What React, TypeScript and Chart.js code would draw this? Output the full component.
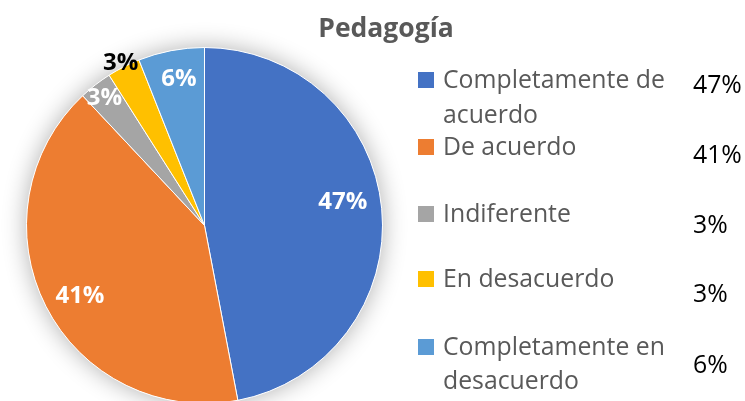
import React, { useEffect, useRef } from "react";
import { Chart, registerables } from "chart.js";

Chart.register(...registerables);

// ---- data ----
const chartTitle = "Pedagogía";
const categories: string[][] = [
  ["Completamente de", "acuerdo"],
  ["De acuerdo"],
  ["Indiferente"],
  ["En desacuerdo"],
  ["Completamente en", "desacuerdo"],
];
const values = [47, 41, 3, 3, 6];
const valueLabels = ["47%", "41%", "3%", "3%", "6%"];

// ---- style / layout ----
const colors = ["#4472C4", "#ED7D31", "#A5A5A5", "#FFC000", "#5B9BD5"];
const labelColors = ["#ffffff", "#ffffff", "#ffffff", "#000000", "#ffffff"];
const labelRadius = [0.79, 0.8, 0.918, 1.036, 0.845];
const labelAngleShift = [-5, -2, 0, 0, 1];
const legendBaselines = [[88, 123], [155], [222], [287], [355, 389]];
const pctBaselines = [93, 163, 233, 302, 373];
const FONT = "'Open Sans', sans-serif";

const overlay = {
  id: "overlay",
  beforeDatasetsDraw(chart: any) {
    const ctx = chart.ctx;
    const arc = chart.getDatasetMeta(0).data[0] as any;
    if (!arc) return;
    ctx.save();
    ctx.beginPath();
    ctx.arc(arc.x, arc.y, arc.outerRadius, 0, Math.PI * 2);
    ctx.fillStyle = "#ffffff";
    ctx.shadowColor = "rgba(0,0,0,0.32)";
    ctx.shadowBlur = 24;
    ctx.fill();
    ctx.restore();
  },
  afterDatasetsDraw(chart: any) {
    const ctx = chart.ctx;
    const meta = chart.getDatasetMeta(0);
    ctx.save();
    ctx.font = `bold 24px ${FONT}`;
    ctx.textAlign = "center";
    ctx.textBaseline = "alphabetic";
    meta.data.forEach((a: any, i: number) => {
      const mid = (a.startAngle + a.endAngle) / 2 + (labelAngleShift[i] * Math.PI) / 180;
      const r = a.outerRadius * labelRadius[i];
      const x = a.x + Math.cos(mid) * r;
      const y = a.y + Math.sin(mid) * r;
      ctx.fillStyle = labelColors[i];
      ctx.fillText(valueLabels[i], x, y + 24 * 0.36);
    });
    ctx.restore();
  },
  afterDraw(chart: any) {
    const ctx = chart.ctx;
    ctx.save();
    // title
    ctx.font = `bold 26.5px ${FONT}`;
    ctx.fillStyle = "#595959";
    ctx.textAlign = "center";
    ctx.textBaseline = "alphabetic";
    ctx.fillText(chartTitle, 386, 37);
    // legend
    ctx.textAlign = "left";
    categories.forEach((lines, i) => {
      const b = legendBaselines[i];
      ctx.fillStyle = colors[i];
      ctx.fillRect(418, b[0] - 16, 16, 16);
      ctx.font = `24.8px ${FONT}`;
      ctx.fillStyle = "#595959";
      lines.forEach((t, j) => ctx.fillText(t, 443, b[j]));
      ctx.fillStyle = "#000000";
      ctx.fillText(valueLabels[i], 693, pctBaselines[i]);
    });
    ctx.restore();
  },
};

export default function App() {
  const ref = useRef<HTMLCanvasElement | null>(null);
  useEffect(() => {
    if (!ref.current) return;
    const chart = new Chart(ref.current, {
      type: "pie",
      data: {
        labels: categories.map((c) => c.join(" ")),
        datasets: [
          {
            data: values,
            backgroundColor: colors,
            borderColor: "#ffffff",
            borderWidth: 1,
          },
        ],
      },
      options: {
        responsive: false,
        animation: false,
        events: [],
        layout: { padding: { left: 26, top: 47, right: 362, bottom: 16 } },
        plugins: {
          legend: { display: false },
          tooltip: { enabled: false },
          title: { display: false },
        },
      },
      plugins: [overlay],
    });
    return () => chart.destroy();
  }, []);
  return (
    <div
      style={{
        position: "fixed",
        left: 0,
        top: 0,
        width: 745,
        height: 401,
        overflow: "hidden",
        background: "#ffffff",
      }}
    >
      <canvas ref={ref} width={745} height={420} style={{ display: "block" }} />
    </div>
  );
}
